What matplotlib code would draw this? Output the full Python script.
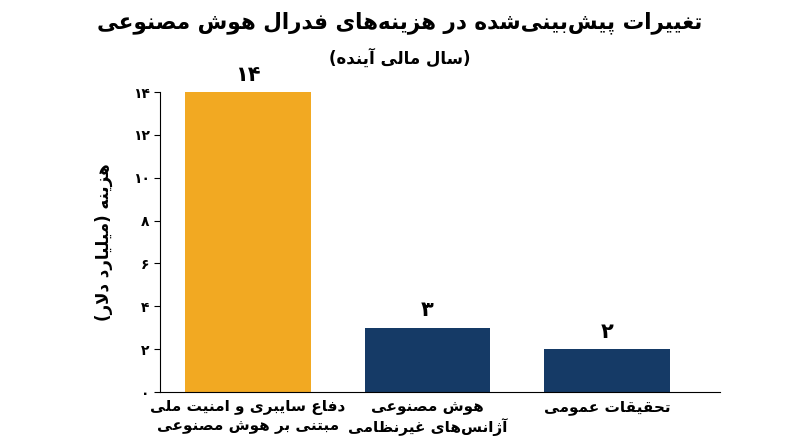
import matplotlib
matplotlib.use("Agg")
import matplotlib.pyplot as plt

# data
categories = ["دفاع سایبری و امنیت ملی\nمبتنی بر هوش مصنوعی",
              "هوش مصنوعی\nآژانس‌های غیرنظامی",
              "تحقیقات عمومی"]
values = [14, 3, 2]
value_labels = ["۱۴", "۳", "۲"]
yticks = [0, 2, 4, 6, 8, 10, 12, 14]
ytick_labels = ["۰", "۲", "۴", "۶", "۸", "۱۰", "۱۲", "۱۴"]
colors = ["#F2A922", "#153A66", "#153A66"]

# minimal persian shaping (matplotlib has no bidi/shaping)
FORMS = {  # isolated, final, initial, medial
    "ا": (0xFE8D, 0xFE8E, None, None), "آ": (0xFE81, 0xFE82, None, None),
    "ب": (0xFE8F, 0xFE90, 0xFE91, 0xFE92), "ت": (0xFE95, 0xFE96, 0xFE97, 0xFE98),
    "ح": (0xFEA1, 0xFEA2, 0xFEA3, 0xFEA4), "د": (0xFEA9, 0xFEAA, None, None),
    "ر": (0xFEAD, 0xFEAE, None, None), "ز": (0xFEAF, 0xFEB0, None, None),
    "ژ": (0xFB8A, 0xFB8B, None, None),
    "س": (0xFEB1, 0xFEB2, 0xFEB3, 0xFEB4), "ش": (0xFEB5, 0xFEB6, 0xFEB7, 0xFEB8),
    "ص": (0xFEB9, 0xFEBA, 0xFEBB, 0xFEBC), "ظ": (0xFEC5, 0xFEC6, 0xFEC7, 0xFEC8),
    "ع": (0xFEC9, 0xFECA, 0xFECB, 0xFECC), "غ": (0xFECD, 0xFECE, 0xFECF, 0xFED0),
    "ف": (0xFED1, 0xFED2, 0xFED3, 0xFED4), "ق": (0xFED5, 0xFED6, 0xFED7, 0xFED8),
    "ل": (0xFEDD, 0xFEDE, 0xFEDF, 0xFEE0), "م": (0xFEE1, 0xFEE2, 0xFEE3, 0xFEE4),
    "ن": (0xFEE5, 0xFEE6, 0xFEE7, 0xFEE8), "ه": (0xFEE9, 0xFEEA, 0xFEEB, 0xFEEC),
    "و": (0xFEED, 0xFEEE, None, None), "ی": (0xFBFC, 0xFBFD, 0xFBFE, 0xFBFF),
    "پ": (0xFB56, 0xFB57, 0xFB58, 0xFB59),
}
LAMALEF = {"ا": (0xFEFB, 0xFEFC), "آ": (0xFEF5, 0xFEF6)}


def shape_line(s):
    chars = list(s)
    out = []
    i = 0
    while i < len(chars):
        c = chars[i]
        prev = chars[i - 1] if i > 0 else None
        join_prev = prev in FORMS and FORMS[prev][2] is not None and c in FORMS
        if c == "ل" and i + 1 < len(chars) and chars[i + 1] in LAMALEF:
            iso, fin = LAMALEF[chars[i + 1]]
            out.append(chr(fin if join_prev else iso))
            i += 2
            continue
        if c not in FORMS:
            out.append({"(": ")", ")": "("}.get(c, "" if c == "\u200c" else c))
            i += 1
            continue
        nxt = chars[i + 1] if i + 1 < len(chars) else None
        iso, fin, ini, med = FORMS[c]
        join_next = ini is not None and nxt in FORMS
        if join_prev and join_next:
            g = med
        elif join_prev:
            g = fin
        elif join_next:
            g = ini
        else:
            g = iso
        out.append(chr(g))
        i += 1
    return "".join(reversed(out))


def fa(s):
    return "\n".join(shape_line(l) for l in s.split("\n"))


plt.rcParams["font.family"] = ["DejaVu Sans"]
fig = plt.figure(figsize=(8, 4.47), dpi=100)
ax = fig.add_axes([0.2, 0.123, 0.7, 0.671])

x = range(len(values))
ax.bar(x, values, width=0.7, color=colors)
for xi, v, lab in zip(x, values, value_labels):
    ax.text(xi, v + 0.35, lab, ha="center", va="bottom", fontsize=15, fontweight="bold")

ax.set_xlim(-0.49, 2.63)
ax.set_ylim(0, 14)
ax.set_yticks(yticks)
ax.set_yticklabels(ytick_labels, fontsize=10, fontweight="bold")
ax.set_xticks(list(x))
ax.set_xticklabels([fa(c) for c in categories], fontsize=11, fontweight="bold",
                   multialignment="center")
ax.tick_params(axis="x", length=0, pad=6)
ax.tick_params(axis="y", length=4)
for sp in ["top", "right"]:
    ax.spines[sp].set_visible(False)
ax.set_ylabel(fa("هزینه (میلیارد دلار)"), fontsize=12, fontweight="bold", labelpad=14)

fig.text(0.5, 0.95, fa("تغییرات پیش‌بینی‌شده در هزینه‌های فدرال هوش مصنوعی"),
         ha="center", va="center", fontsize=15.5, fontweight="bold")
fig.text(0.5, 0.87, fa("(سال مالی آینده)"), ha="center", va="center",
         fontsize=12, fontweight="bold")

fig.savefig("out.png", dpi=100)
